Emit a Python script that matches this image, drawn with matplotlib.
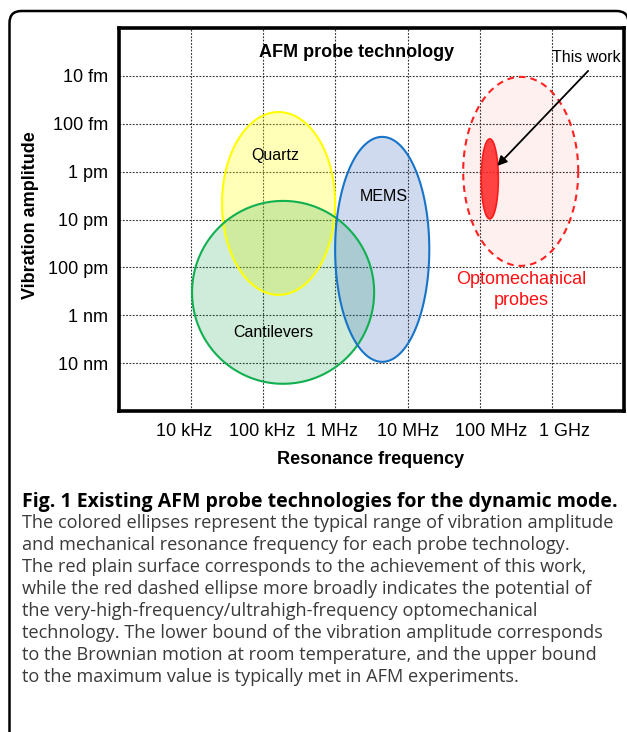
import numpy as np
import matplotlib
matplotlib.use("Agg")
import matplotlib.pyplot as plt
from matplotlib.patches import PathPatch, Polygon
from matplotlib.path import Path
from matplotlib.transforms import ScaledTranslation

# ---- data (frequency in Hz, amplitude in m) ----
tech_names = ["Quartz", "Cantilevers", "MEMS", "Optomechanical probes", "This work"]
freq_min_hz = [2.68e4, 1.03e4, 9.9e5, 5.9e7, 1.05e8]
freq_max_hz = [9.9e5, 3.44e6, 2.0e7, 2.32e9, 1.81e8]
amp_min_m = [5.7e-14, 4.09e-12, 1.88e-13, 1.05e-14, 2.07e-13]
amp_max_m = [3.75e-10, 2.70e-8, 9.4e-9, 9.3e-11, 9.7e-12]

freq_ticks_hz = [1e4, 1e5, 1e6, 1e7, 1e8, 1e9]
freq_tick_labels = ["10 kHz", "100 kHz", "1 MHz", "10 MHz", "100 MHz", "1 GHz"]
amp_ticks_m = [1e-14, 1e-13, 1e-12, 1e-11, 1e-10, 1e-9, 1e-8]
amp_tick_labels = ["10 fm", "100 fm", "1 pm", "10 pm", "100 pm", "1 nm", "10 nm"]

caption_title = "Fig. 1 Existing AFM probe technologies for the dynamic mode."
caption_lines = [
    "The colored ellipses represent the typical range of vibration amplitude",
    "and mechanical resonance frequency for each probe technology.",
    "The red plain surface corresponds to the achievement of this work,",
    "while the red dashed ellipse more broadly indicates the potential of",
    "the very-high-frequency/ultrahigh-frequency optomechanical",
    "technology. The lower bound of the vibration amplitude corresponds",
    "to the Brownian motion at room temperature, and the upper bound",
    "to the maximum value is typically met in AFM experiments.",
]

# ---- styles ----
face_colors = ["#ffff00", "#00963c", "#285ab4", "#ff0000", "#ff2a2a"]
face_alpha = [0.28, 0.19, 0.22, 0.06, 0.88]
edge_colors = ["#ffff00", "#10b050", "#1874c8", "#ff2020", "#ff1a1a"]
edge_styles = ["-", "-", "-", (0, (3.2, 2.4)), "-"]
edge_widths = [1.5, 1.5, 1.5, 1.5, 1.2]

plt.rcParams["font.family"] = ["Liberation Sans", "DejaVu Sans"]

W, H = 627, 732
fig = plt.figure(figsize=(W / 100, H / 100), dpi=100)

# open rounded frame: left side + top side, cropped at right and bottom
left, top, right, r = 0.095, 7.21, 6.285, 0.12
frame_path = Path(
    [(left, -0.2), (left, top - r), (left, top), (left + r, top),
     (right - r, top), (right, top), (right, top - r)],
    [Path.MOVETO, Path.LINETO, Path.CURVE3, Path.CURVE3,
     Path.LINETO, Path.CURVE3, Path.CURVE3])
fig.patches.append(PathPatch(frame_path, transform=fig.dpi_scale_trans,
                             fill=False, lw=1.8, edgecolor="black"))

ax = fig.add_axes([119 / W, (H - 411) / H, 505 / W, 383 / H])
ax.set_xscale("log")
ax.set_yscale("log")
ax.set_xlim(1e3, 1e10)
ax.set_ylim(1e-7, 1e-15)

t = np.linspace(0, 2 * np.pi, 721)


def ellipse_xy(i):
    lx0, lx1 = np.log10(freq_min_hz[i]), np.log10(freq_max_hz[i])
    ly0, ly1 = np.log10(amp_min_m[i]), np.log10(amp_max_m[i])
    cx, rx = (lx0 + lx1) / 2, (lx1 - lx0) / 2
    cy, ry = (ly0 + ly1) / 2, (ly1 - ly0) / 2
    return 10 ** (cx + rx * np.cos(t)), 10 ** (cy + ry * np.sin(t))


for i in range(len(tech_names)):
    xs, ys = ellipse_xy(i)
    ax.fill(xs, ys, facecolor=face_colors[i], alpha=face_alpha[i],
            edgecolor="none", zorder=2 + i * 0.1)
for i in range(len(tech_names)):
    xs, ys = ellipse_xy(i)
    ax.add_patch(Polygon(np.column_stack([xs, ys]), closed=True, fill=False,
                         edgecolor=edge_colors[i], lw=edge_widths[i],
                         linestyle=edge_styles[i], joinstyle="round",
                         zorder=3 + i * 0.1))

ax.set_xticks(freq_ticks_hz)
ax.set_xticklabels(freq_tick_labels)
ax.set_yticks(amp_ticks_m)
ax.set_yticklabels(amp_tick_labels)
ax.minorticks_off()
ax.tick_params(axis="both", length=0, labelsize=13)
ax.tick_params(axis="x", pad=9)
ax.tick_params(axis="y", pad=8)
label_shift_px = [-7, -1, -3, 0, 11, 13]
for lbl, dx in zip(ax.get_xticklabels(), label_shift_px):
    lbl.set_transform(lbl.get_transform() +
                      ScaledTranslation(dx / 100, 0, fig.dpi_scale_trans))
ax.grid(True, color="#333333", linestyle=(0, (1.6, 1.4)), lw=0.8, zorder=1)
ax.set_axisbelow(True)
for s in ax.spines.values():
    s.set_linewidth(2.6)
    s.set_zorder(10)

ax.text(0.470, 0.935, "AFM probe technology", transform=ax.transAxes,
        ha="center", va="center", fontsize=13, fontweight="bold", zorder=12)
ax.text(0.309, 0.666, "Quartz", transform=ax.transAxes, ha="center",
        va="center", fontsize=11.5, zorder=12)
ax.text(0.525, 0.559, "MEMS", transform=ax.transAxes, ha="center",
        va="center", fontsize=11.5, zorder=12)
ax.text(0.305, 0.204, "Cantilevers", transform=ax.transAxes, ha="center",
        va="center", fontsize=11.5, zorder=12)
ax.text(0.796, 0.316, "Optomechanical\nprobes", transform=ax.transAxes,
        ha="center", va="center", fontsize=13, color="#ff1010",
        linespacing=1.25, zorder=12)
ax.text(0.925, 0.923, "This work", transform=ax.transAxes,
        ha="center", va="center", fontsize=11.5, zorder=12)
ax.annotate("", xy=(1.75e8, 7.6e-13), xycoords="data",
            xytext=(0.929, 0.888), textcoords="axes fraction", zorder=12,
            arrowprops=dict(arrowstyle="-|>", color="black", lw=1.3,
                            mutation_scale=14, shrinkA=0, shrinkB=0))

fig.text(31 / W, 1 - 215 / H, "Vibration amplitude", rotation=90,
         ha="center", va="center", fontsize=13, fontweight="bold")
fig.text(371 / W, 1 - 459 / H, "Resonance frequency",
         ha="center", va="center", fontsize=13, fontweight="bold")

cap_font = ["Open Sans", "DejaVu Sans"]
fig.text(22 / W, 1 - 502 / H, caption_title, ha="left", va="center",
         fontsize=14.0, fontweight="bold", family=cap_font, color="black")
for k, line in enumerate(caption_lines):
    fig.text(22 / W, 1 - (523.5 + 21.9 * k) / H, line, ha="left",
             va="center", fontsize=13.1, family=cap_font, color="#3a3a3a")

fig.savefig("out.png", dpi=100)
